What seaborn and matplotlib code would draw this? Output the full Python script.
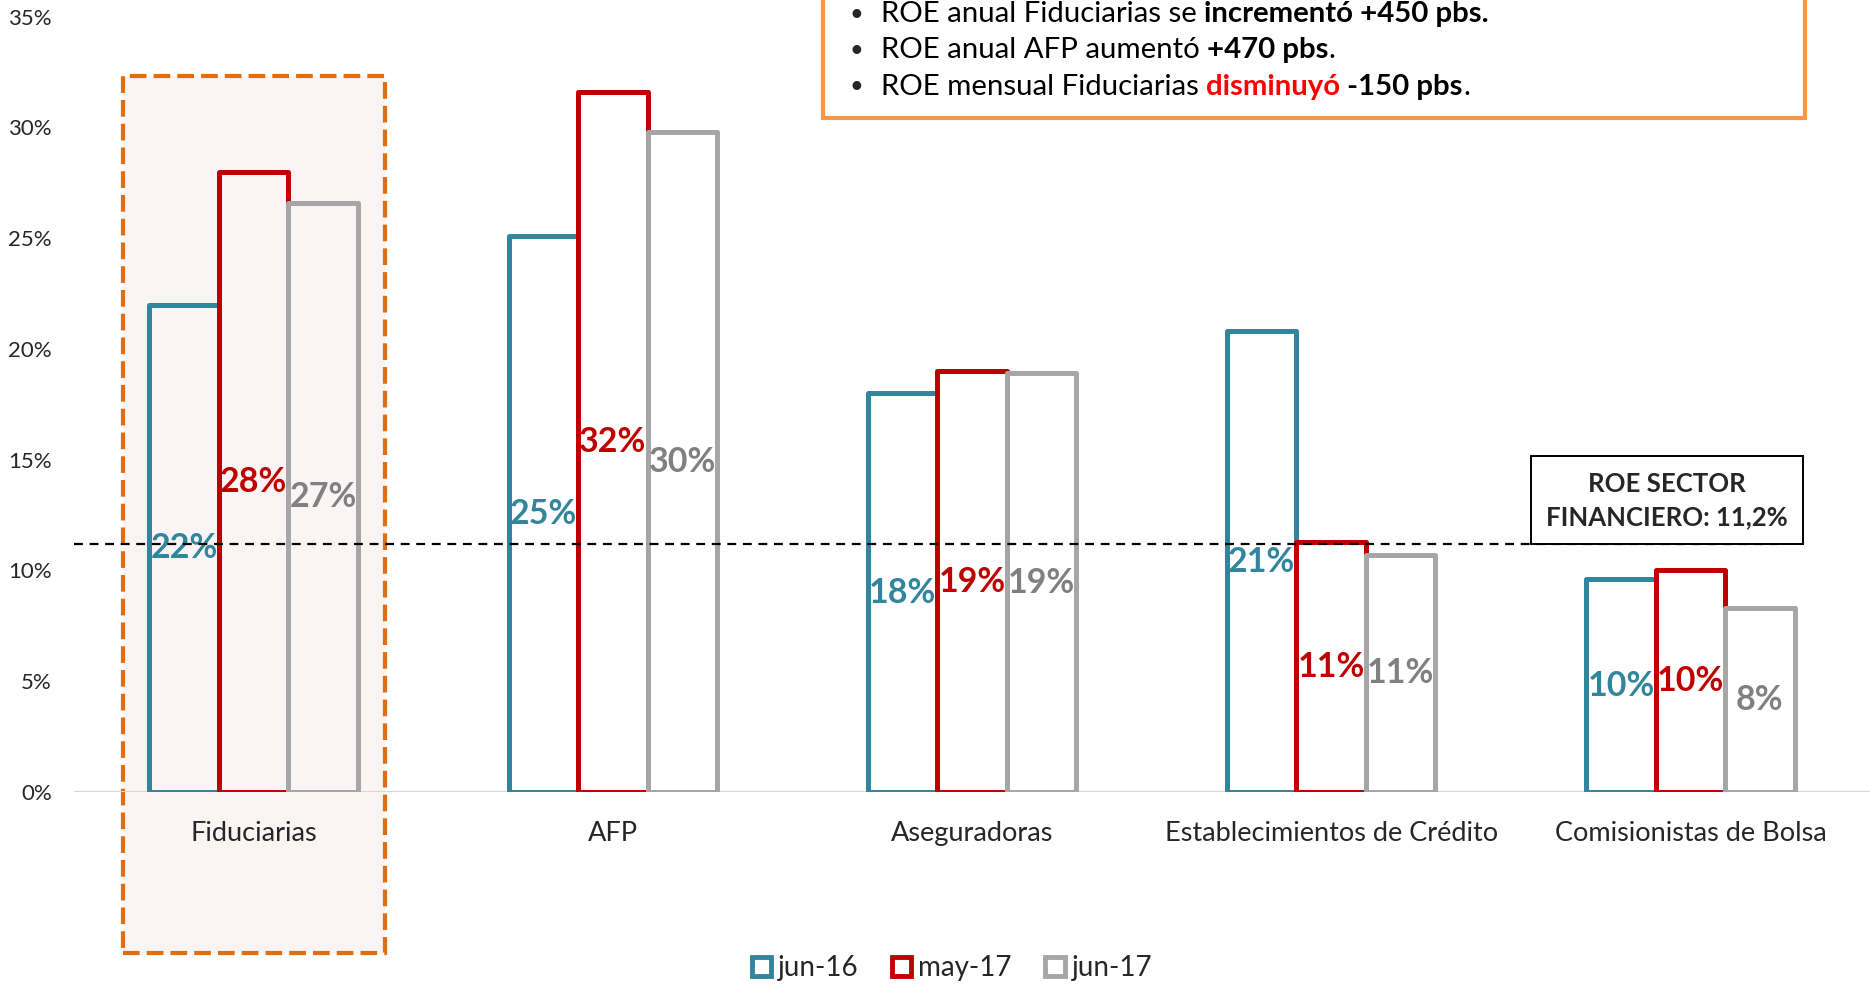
import pandas as pd
import matplotlib
matplotlib.use("Agg")
import matplotlib.pyplot as plt
from matplotlib.patches import Rectangle, Patch
from matplotlib.text import Annotation
import seaborn as sns

categories = ["Fiduciarias", "AFP", "Aseguradoras", "Establecimientos de Crédito", "Comisionistas de Bolsa"]
periods = ["jun-16", "may-17", "jun-17"]
roe_jun16 = [22.0, 25.1, 18.0, 20.8, 9.6]
roe_may17 = [28.0, 31.6, 19.0, 11.3, 10.0]
roe_jun17 = [26.6, 29.8, 18.9, 10.7, 8.3]
roe_sector = 11.2
yticks = [0, 5, 10, 15, 20, 25, 30, 35]

bar_colors = ["#31859C", "#C00000", "#A6A6A6"]
label_colors = ["#31859C", "#C00000", "#808080"]

df = pd.DataFrame({
    "Sector": categories * 3,
    "Periodo": [p for p in periods for _ in categories],
    "ROE": roe_jun16 + roe_may17 + roe_jun17,
})

sns.set_style("white")
plt.rcParams["font.family"] = ["Lato", "DejaVu Sans"]

fig = plt.figure(figsize=(18.7, 9.85), dpi=100)
ax = fig.add_axes([0.0396, 0.196, 0.9604, 0.787])
ax.patch.set_alpha(0)
ax.set_axisbelow(False)

sns.barplot(data=df, x="Sector", y="ROE", hue="Periodo", order=categories, hue_order=periods,
            palette=bar_colors, fill=False, width=0.58, gap=0, linewidth=3.6,
            legend=False, ax=ax, zorder=3)

for cont, col in zip(ax.containers, label_colors):
    for bar in cont:
        bar.set_joinstyle("round")
    ax.bar_label(cont, labels=[f"{v:.0f}%" for v in cont.datavalues], label_type="center",
                 color=col, fontsize=24.5, fontweight="bold", zorder=5)

ax.set_xlim(-0.5, 4.5)
ax.set_ylim(0, 35)
ax.set_yticks(yticks)
ax.set_yticklabels([f"{t}%" for t in yticks])
ax.tick_params(axis="y", length=0, pad=16, labelsize=16)
ax.tick_params(axis="x", length=0, pad=21, labelsize=19.5)
ax.set_xlabel("")
ax.set_ylabel("")
sns.despine(ax=ax, left=True, bottom=True)
ax.axhline(0, color="#D9D9D9", lw=1.6, zorder=2)

# highlight box around Fiduciarias
ax.add_patch(Rectangle((-0.365, -7.27), 0.73, 39.6, facecolor="#FBF4F4", edgecolor="#E46C0A",
                       lw=3, linestyle=(0, (4, 1.7)), clip_on=False, zorder=1))

# sector reference line and box
ax.plot([-0.5, 4.24], [roe_sector, roe_sector], color="black", lw=1.6, ls=(0, (4, 3)), zorder=6)
ax.add_patch(Rectangle((3.556, roe_sector), 0.757, 3.95, facecolor="white", edgecolor="black",
                       lw=1.4, zorder=6))
ax.text(3.935, roe_sector + 1.97, "ROE SECTOR\nFINANCIERO: 11,2%", ha="center", va="center",
        fontsize=18.5, fontweight="bold", linespacing=1.45, zorder=7)

# comment box on top
fig.add_artist(Rectangle((0.440, 0.880), 0.525, 0.2, transform=fig.transFigure,
                         facecolor="white", edgecolor="#F79646", lw=3, clip_on=False, zorder=1))
lines = [
    [("ROE anual Fiduciarias se ", "normal", "black"), ("incrementó +450 pbs.", "bold", "black")],
    [("ROE anual AFP aumentó ", "normal", "black"), ("+470 pbs", "bold", "black"), (".", "normal", "black")],
    [("ROE mensual Fiduciarias ", "normal", "black"), ("disminuyó", "bold", "#FF0000"),
     (" -150 pbs", "bold", "black"), (".", "normal", "black")],
]
line_y = [1 - 14 / 985, 1 - 50 / 985, 1 - 87 / 985]
for parts, y in zip(lines, line_y):
    fig.text(850 / 1870, y, "•", fontsize=17, va="center", ha="left", zorder=4)
    prev = fig.text(881 / 1870, y, parts[0][0], fontsize=21.2, fontweight=parts[0][1],
                    color=parts[0][2], va="center", ha="left", zorder=4)
    for s, w, c in parts[1:]:
        prev = fig.add_artist(Annotation(s, xy=(1, 0), xycoords=prev, va="bottom", ha="left",
                                         fontsize=21.2, fontweight=w, color=c,
                                         annotation_clip=False, zorder=4))

handles = [Patch(facecolor="white", edgecolor=c, lw=3.5) for c in bar_colors]
fig.legend(handles, periods, loc="center", bbox_to_anchor=(0.509, 0.017), ncol=3, frameon=False,
           fontsize=20, handlelength=0.7, handleheight=0.7, handletextpad=0.25, columnspacing=1.2)

fig.savefig("out.png", dpi=100, facecolor="white")
